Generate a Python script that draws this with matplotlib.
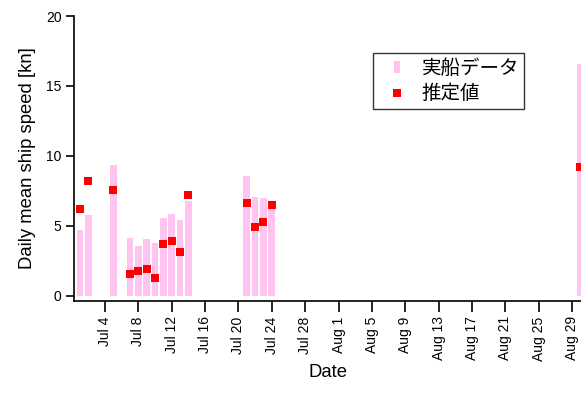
import matplotlib
matplotlib.use("Agg")
import matplotlib.pyplot as plt
import matplotlib.dates as mdates
from matplotlib.lines import Line2D
from matplotlib.path import Path
import datetime as dt

plt.rcParams['font.family'] = ['Liberation Sans', 'Noto Sans CJK JP', 'DejaVu Sans']

dates = ["2020-07-01", "2020-07-02", "2020-07-05", "2020-07-07", "2020-07-08",
         "2020-07-09", "2020-07-10", "2020-07-11", "2020-07-12", "2020-07-13",
         "2020-07-14", "2020-07-21", "2020-07-22", "2020-07-23", "2020-07-24",
         "2020-08-30"]
actual = [4.7, 5.8, 9.35, 4.15, 3.55, 4.05, 3.8, 5.6, 5.85, 5.45, 6.75,
          8.6, 7.1, 7.0, 6.75, 16.6]
estimated = [6.2, 8.2, 7.6, 1.55, 1.8, 1.93, 1.26, 3.71, 3.93, 3.12, 7.21,
             6.62, 4.9, 5.26, 6.48, 9.2]
tick_dates = ["2020-07-04", "2020-07-08", "2020-07-12", "2020-07-16", "2020-07-20",
              "2020-07-24", "2020-07-28", "2020-08-01", "2020-08-05", "2020-08-09",
              "2020-08-13", "2020-08-17", "2020-08-21", "2020-08-25", "2020-08-29"]
yticks = [0, 5, 10, 15, 20]
legend_labels = ["実船データ", "推定値"]

x = mdates.date2num([dt.datetime.fromisoformat(d) for d in dates])
xt = mdates.date2num([dt.datetime.fromisoformat(d) for d in tick_dates])

fig = plt.figure(figsize=(5.81, 4.08), dpi=100)
ax = fig.add_axes([74/581, 1-301/408, 1-74/581, (301-16)/408])

pink = '#FFC4F0'
red = '#FF0000'
ax.bar(x, actual, width=0.8, color=pink, edgecolor='none', zorder=2)
ax.plot(x, estimated, 's', color=red, markersize=5.2, markeredgewidth=0, zorder=3)

x0 = mdates.date2num(dt.datetime(2020, 6, 30)) + 0.28
x1 = mdates.date2num(dt.datetime(2020, 8, 30)) + 0.07
ax.set_xlim(x0, x1)
ax.set_ylim(-0.36, 20)

ax.set_xticks(xt)
ax.xaxis.set_major_formatter(mdates.DateFormatter('%b %-d'))
ax.set_yticks(yticks)
for s in ['top', 'right']:
    ax.spines[s].set_visible(False)
for s in ['left', 'bottom']:
    ax.spines[s].set_linewidth(1.2)
ax.tick_params(axis='x', direction='out', length=8, width=1.2, labelsize=10,
               labelrotation=90, pad=3)
ax.tick_params(axis='y', direction='out', length=6, width=1.2, labelsize=10, pad=3)

ax.set_ylabel("Daily mean ship speed [kn]", fontsize=13.3, labelpad=7)
ax.set_xlabel("Date", fontsize=13.3, labelpad=2.5)

bar_marker = Path([(-0.21, -0.5), (0.21, -0.5), (0.21, 0.5), (-0.21, 0.5), (-0.21, -0.5)],
                  [Path.MOVETO, Path.LINETO, Path.LINETO, Path.LINETO, Path.CLOSEPOLY])
handles = [Line2D([], [], marker=bar_marker, linestyle='none', color=pink,
                  markersize=8.8, markeredgewidth=0),
           Line2D([], [], marker='s', linestyle='none', color=red,
                  markersize=5.2, markeredgewidth=0)]
leg = ax.legend(handles, legend_labels, loc='upper left',
                bbox_to_anchor=((373-74)/507, (301-53)/285),
                prop={'family': ['Noto Sans CJK JP'], 'size': 14},
                frameon=True, fancybox=False, edgecolor='black',
                handlelength=1.94, handletextpad=0.3,
                borderpad=0.26, labelspacing=0.22, borderaxespad=0)
leg.get_frame().set_linewidth(1.0)

fig.savefig("out.png", dpi=100)
